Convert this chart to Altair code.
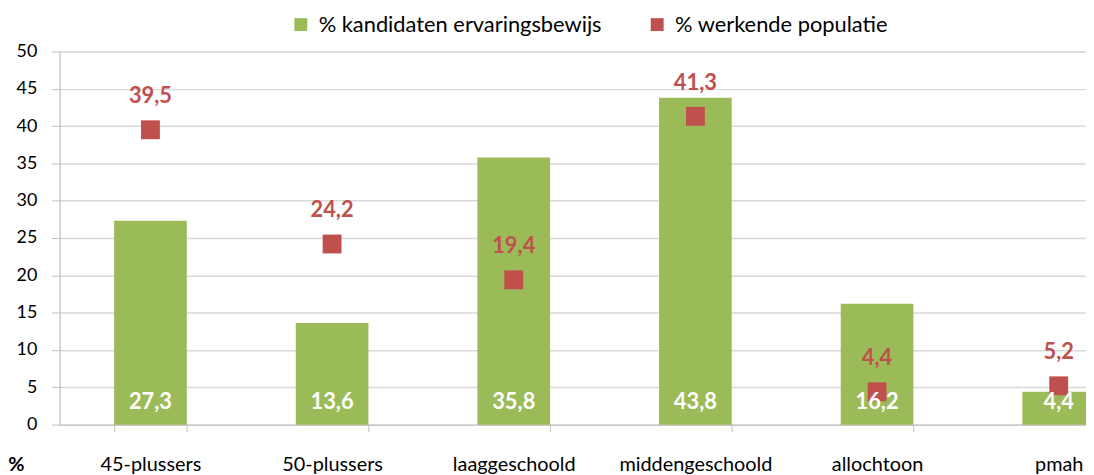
import altair as alt
import pandas as pd

categories = ["45-plussers", "50-plussers", "laaggeschoold", "middengeschoold", "allochtoon", "pmah"]
kandidaten = [27.3, 13.6, 35.8, 43.8, 16.2, 4.4]
werkend = [39.5, 24.2, 19.4, 41.3, 4.4, 5.2]
series_names = ["% kandidaten ervaringsbewijs", "% werkende populatie"]
series_colors = ["#9BBB59", "#C0504D"]
y_ticks = [0, 5, 10, 15, 20, 25, 30, 35, 40, 45, 50]

rows = []
for c, v in zip(categories, kandidaten):
    rows.append({"cat": c, "series": series_names[0], "value": v})
for c, v in zip(categories, werkend):
    rows.append({"cat": c, "series": series_names[1], "value": v})
df = pd.DataFrame(rows)

W, H = 1034, 376
FONT = "Lato"

base = alt.Chart(df).transform_calculate(
    label="replace(format(datum.value, '.1f'), '.', ',')"
)

x_enc = alt.X(
    "cat:N",
    sort=categories,
    scale=alt.Scale(range=[0, 1098], paddingInner=0.6, paddingOuter=0.3),
    axis=alt.Axis(
        title=None, labelAngle=0, labelFontSize=20, labelColor="#000000",
        labelFont=FONT, labelPadding=23, tickBand="extent", tickSize=7,
        tickColor="#BFBFBF", domainColor="#BFBFBF", grid=False, labelLimit=0,
    ),
)
y_enc = alt.Y(
    "value:Q",
    scale=alt.Scale(domain=[0, 50], nice=False),
    axis=alt.Axis(
        values=y_ticks, title="%", titleAngle=0, titleX=-44, titleY=H + 40,
        titleAlign="center", titleBaseline="middle", titleFontSize=20,
        titleFont=FONT, titleFontWeight="bold", titleColor="#000000",
        labelFontSize=18, labelFont=FONT, labelColor="#000000", labelPadding=15,
        labelOverlap=False,
        tickSize=8, tickColor="#BFBFBF", domainColor="#BFBFBF",
        gridColor="#D9D9D9", gridWidth=1.5,
    ),
)
color_enc = alt.Color(
    "series:N",
    scale=alt.Scale(domain=series_names, range=series_colors),
    legend=alt.Legend(
        title=None, orient="none", direction="horizontal", legendX=232, legendY=-38,
        symbolType="square", symbolSize=169, labelFontSize=22, labelFont=FONT,
        labelColor="#000000", labelOffset=7, columnPadding=44, padding=0,
        labelLimit=0,
    ),
)

bars = base.transform_filter(
    alt.datum.series == series_names[0]
).mark_bar().encode(x=x_enc, y=y_enc, color=color_enc)

points = base.transform_filter(
    alt.datum.series == series_names[1]
).mark_point(shape="square", filled=True, size=361, opacity=1).encode(
    x=x_enc, y=y_enc, color=color_enc
)

red_labels = base.transform_filter(
    alt.datum.series == series_names[1]
).mark_text(dy=-34, fontSize=22, fontWeight="bold", font=FONT, color="#C0504D").encode(
    x=x_enc, y=y_enc, text="label:N"
)

white_labels = base.transform_filter(
    alt.datum.series == series_names[0]
).mark_text(fontSize=22, fontWeight="bold", font=FONT, color="#FFFFFF", baseline="middle").encode(
    x=x_enc, y=alt.value(H - 23), text="label:N"
)

chart = alt.layer(bars, points, red_labels, white_labels).properties(
    width=W, height=H,
    autosize=alt.AutoSizeParams(type="none"),
    padding={"left": 52, "top": 42, "right": 0, "bottom": 48},
).configure_view(stroke=None).configure(background="#FFFFFF")

chart.save("out.html", embed_options={"renderer": "svg", "actions": False})
